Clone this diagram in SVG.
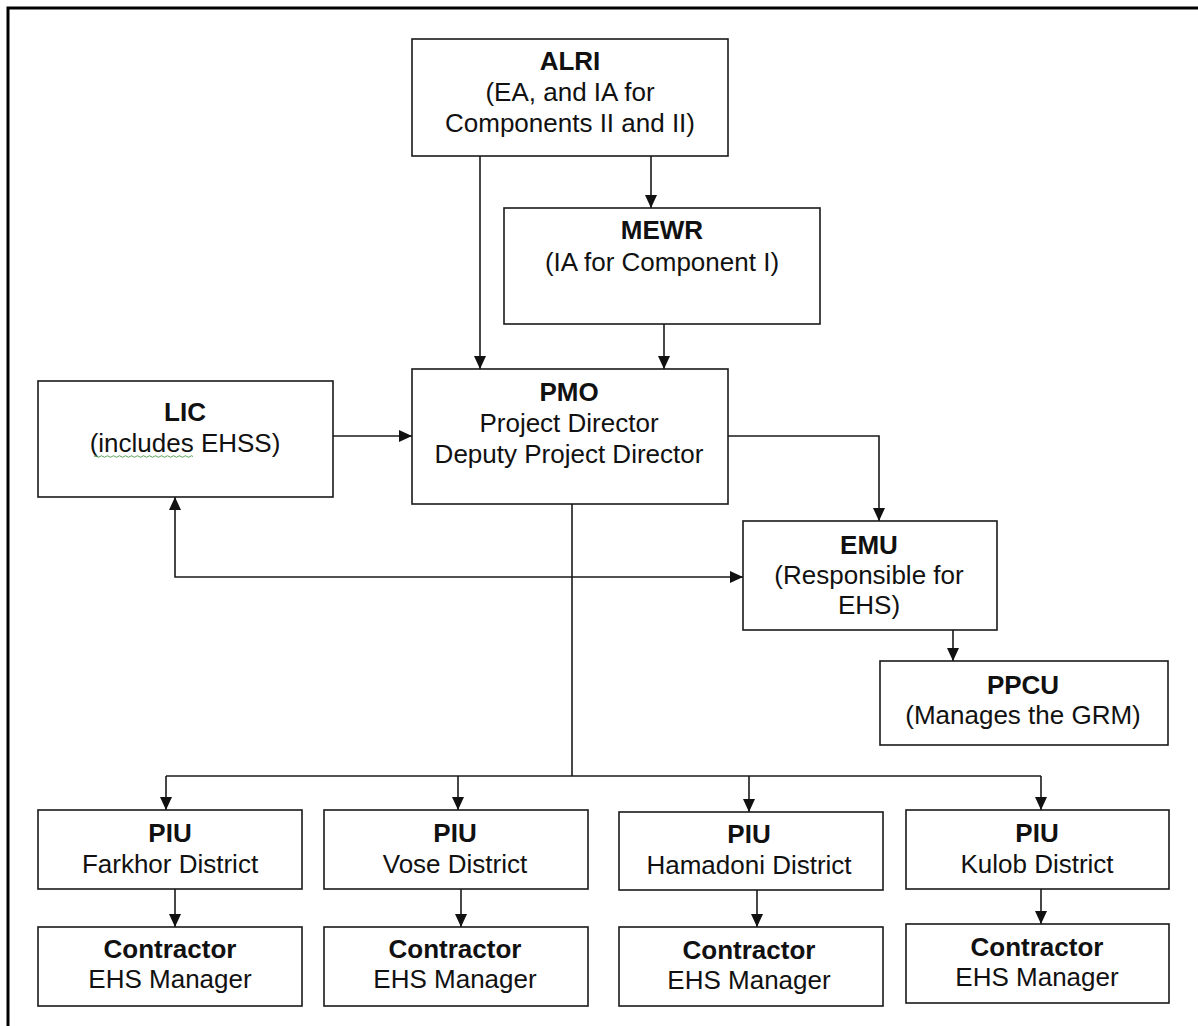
<svg xmlns="http://www.w3.org/2000/svg" width="1198" height="1026" viewBox="0 0 1198 1026">
<style>
.box{fill:#fff;stroke:#1a1a1a;stroke-width:1.6}
.t{font-family:"Liberation Sans",Arial,sans-serif;font-size:26px;fill:#111;text-anchor:middle}
.b{font-weight:bold}
.c{fill:none;stroke:#1a1a1a;stroke-width:1.6}
</style>
<defs>
<marker id="ah" viewBox="0 0 13 13" refX="13" refY="6.5" markerWidth="13" markerHeight="13" markerUnits="userSpaceOnUse" orient="auto-start-reverse">
<path d="M0,0.5 L13,6.5 L0,12.5 Z" fill="#111"/>
</marker>
</defs>
<rect width="1198" height="1026" fill="#fff"/>
<path d="M8,1026 V8 H1198" fill="none" stroke="#000" stroke-width="3"/>

<g id="connectors">
<path class="c" d="M480,156 V369" marker-end="url(#ah)"/>
<path class="c" d="M651,156 V208" marker-end="url(#ah)"/>
<path class="c" d="M664,324 V369" marker-end="url(#ah)"/>
<path class="c" d="M333,436 H412" marker-end="url(#ah)"/>
<path class="c" d="M728,436 H879 V521" marker-end="url(#ah)"/>
<path class="c" d="M175,497 V577 H743" marker-start="url(#ah)" marker-end="url(#ah)"/>
<path class="c" d="M953,630 V661" marker-end="url(#ah)"/>
<path class="c" d="M572,504 V776"/>
<path class="c" d="M166,776 H1041"/>
<path class="c" d="M166,776 V810" marker-end="url(#ah)"/>
<path class="c" d="M458,776 V810" marker-end="url(#ah)"/>
<path class="c" d="M749,776 V812" marker-end="url(#ah)"/>
<path class="c" d="M1041,776 V810" marker-end="url(#ah)"/>
<path class="c" d="M175,889 V927" marker-end="url(#ah)"/>
<path class="c" d="M461,889 V927" marker-end="url(#ah)"/>
<path class="c" d="M757,890 V927" marker-end="url(#ah)"/>
<path class="c" d="M1041,889 V924" marker-end="url(#ah)"/>
</g>

<g id="alri">
<rect class="box" x="412" y="39" width="316" height="117"/>
<text class="t b" x="570" y="70">ALRI</text>
<text class="t" x="570" y="101">(EA, and IA for</text>
<text class="t" x="570" y="132">Components II and II)</text>
</g>
<g id="mewr">
<rect class="box" x="504" y="208" width="316" height="116"/>
<text class="t b" x="662" y="239">MEWR</text>
<text class="t" x="662" y="271">(IA for Component I)</text>
</g>
<g id="pmo">
<rect class="box" x="412" y="369" width="316" height="135"/>
<text class="t b" x="569" y="401">PMO</text>
<text class="t" x="569" y="432">Project Director</text>
<text class="t" x="569" y="463">Deputy Project Director</text>
</g>
<g id="lic">
<rect class="box" x="38" y="381" width="295" height="116"/>
<text class="t b" x="185" y="421">LIC</text>
<text class="t" x="185" y="452">(includes EHSS)</text>
<path d="M94,456.5 q1.5,-1.5 3,0 t3,0 t3,0 t3,0 t3,0 t3,0 t3,0 t3,0 t3,0 t3,0 t3,0 t3,0 t3,0 t3,0 t3,0 t3,0 t3,0 t3,0 t3,0 t3,0 t3,0 t3,0 t3,0 t3,0 t3,0 t3,0 t3,0 t3,0 t3,0 t3,0 t3,0 t3,0 t3,0" fill="none" stroke="#5aa05a" stroke-width="1"/>
</g>
<g id="emu">
<rect class="box" x="743" y="521" width="254" height="109"/>
<text class="t b" x="869" y="554">EMU</text>
<text class="t" x="869" y="584">(Responsible for</text>
<text class="t" x="869" y="614">EHS)</text>
</g>
<g id="ppcu">
<rect class="box" x="880" y="661" width="288" height="84"/>
<text class="t b" x="1023" y="694">PPCU</text>
<text class="t" x="1023" y="724">(Manages the GRM)</text>
</g>

<g id="piu-farkhor">
<rect class="box" x="38" y="810" width="264" height="79"/>
<text class="t b" x="170" y="842">PIU</text>
<text class="t" x="170" y="873">Farkhor District</text>
</g>
<g id="piu-vose">
<rect class="box" x="324" y="810" width="264" height="79"/>
<text class="t b" x="455" y="842">PIU</text>
<text class="t" x="455" y="873">Vose District</text>
</g>
<g id="piu-hamadoni">
<rect class="box" x="619" y="812" width="264" height="78"/>
<text class="t b" x="749" y="843">PIU</text>
<text class="t" x="749" y="874">Hamadoni District</text>
</g>
<g id="piu-kulob">
<rect class="box" x="906" y="810" width="263" height="79"/>
<text class="t b" x="1037" y="842">PIU</text>
<text class="t" x="1037" y="873">Kulob District</text>
</g>

<g id="contractor-1">
<rect class="box" x="38" y="927" width="264" height="79"/>
<text class="t b" x="170" y="958">Contractor</text>
<text class="t" x="170" y="988">EHS Manager</text>
</g>
<g id="contractor-2">
<rect class="box" x="324" y="927" width="264" height="79"/>
<text class="t b" x="455" y="958">Contractor</text>
<text class="t" x="455" y="988">EHS Manager</text>
</g>
<g id="contractor-3">
<rect class="box" x="619" y="927" width="264" height="79"/>
<text class="t b" x="749" y="959">Contractor</text>
<text class="t" x="749" y="989">EHS Manager</text>
</g>
<g id="contractor-4">
<rect class="box" x="906" y="924" width="263" height="79"/>
<text class="t b" x="1037" y="956">Contractor</text>
<text class="t" x="1037" y="986">EHS Manager</text>
</g>
</svg>
